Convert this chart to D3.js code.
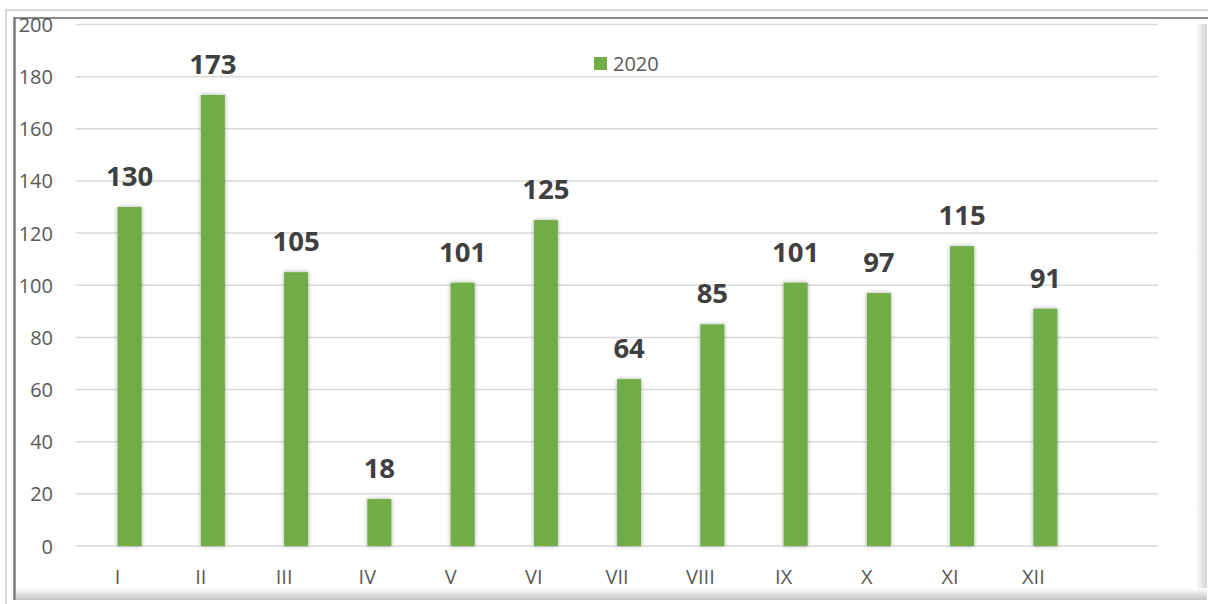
<!DOCTYPE html>
<html>
<head>
<meta charset="utf-8">
<script src="https://cdn.jsdelivr.net/npm/d3@7"></script>
<style>
  html, body { margin: 0; padding: 0; background: #fff; }
  svg { display: block; }
</style>
</head>
<body>
<svg id="chart" width="1208" height="604"></svg>
<script>
const months = ["I","II","III","IV","V","VI","VII","VIII","IX","X","XI","XII"];
const values2020 = [130,173,105,18,101,125,64,85,101,97,115,91];
const seriesName = "2020";
const yTicks = [0,20,40,60,80,100,120,140,160,180,200];

const svg = d3.select("#chart");
const W = 1208, H = 604;

const defs = svg.append("defs");
const f = defs.append("filter").attr("id","shadow").attr("x","-50%").attr("y","-10%").attr("width","200%").attr("height","120%");
f.append("feDropShadow").attr("dx",0).attr("dy",0).attr("stdDeviation",2.2).attr("flood-color","#000").attr("flood-opacity",0.35);

const gR = defs.append("linearGradient").attr("id","gRight").attr("x1","0").attr("x2","1").attr("y1","0").attr("y2","0");
gR.append("stop").attr("offset","0").attr("stop-color","#ffffff");
gR.append("stop").attr("offset","1").attr("stop-color","#d2d2d2");
const gB = defs.append("linearGradient").attr("id","gBottom").attr("x1","0").attr("x2","0").attr("y1","0").attr("y2","1");
gB.append("stop").attr("offset","0").attr("stop-color","#ffffff");
gB.append("stop").attr("offset","1").attr("stop-color","#c4c4c4");

// Frame
svg.append("rect").attr("x",1195).attr("y",24).attr("width",12).attr("height",576).attr("fill","url(#gRight)");
svg.append("rect").attr("x",16).attr("y",588).attr("width",1191).attr("height",12).attr("fill","url(#gBottom)");
svg.append("line").attr("x1",5).attr("x2",W).attr("y1",10).attr("y2",10).attr("stroke","#d9d9d9").attr("stroke-width",2);
svg.append("line").attr("x1",6).attr("x2",6).attr("y1",10).attr("y2",H).attr("stroke","#d9d9d9").attr("stroke-width",2);
svg.append("line").attr("x1",14).attr("x2",W).attr("y1",18).attr("y2",18).attr("stroke","#8a8a8a").attr("stroke-width",2);
svg.append("line").attr("x1",14.5).attr("x2",14.5).attr("y1",17).attr("y2",600).attr("stroke","#7a7a7a").attr("stroke-width",2.5);

const plotL = 76, plotR = 1158;
const x = d3.scaleBand().domain(months).range([plotL, plotL + 12 * 83.25]);
const y = d3.scaleLinear().domain([0,200]).range([546, 24.5]);

// gridlines
svg.append("g").selectAll("line").data(yTicks).join("line")
  .attr("x1", plotL).attr("x2", plotR)
  .attr("y1", d => y(d)).attr("y2", d => y(d))
  .attr("stroke", "#d9d9d9").attr("stroke-width", 1.5);

// y labels
svg.append("g").selectAll("text").data(yTicks).join("text")
  .attr("x", 53).attr("y", d => y(d))
  .attr("text-anchor","end").attr("dominant-baseline","central")
  .attr("font-family","'Open Sans', sans-serif").attr("font-size",20)
  .attr("fill","#595959").text(d => d);

// bars
const bw = 24;
svg.append("g").selectAll("rect").data(values2020).join("rect")
  .attr("x", (d,i) => x(months[i]) + x.bandwidth()/2)
  .attr("width", bw)
  .attr("y", d => y(d))
  .attr("height", d => y(0) - y(d))
  .attr("fill", "#70ad47")
  .attr("filter", "url(#shadow)");

// data labels
svg.append("g").selectAll("text").data(values2020).join("text")
  .attr("x", (d,i) => x(months[i]) + x.bandwidth()/2 + bw/2)
  .attr("y", d => y(d) - 21)
  .attr("text-anchor","middle")
  .attr("font-family","'Open Sans', sans-serif").attr("font-weight","bold").attr("font-size",27.5)
  .attr("fill","#404040").text(d => d);

// x labels
svg.append("g").selectAll("text").data(months).join("text")
  .attr("x", d => x(d) + x.bandwidth()/2)
  .attr("y", 584)
  .attr("text-anchor","middle")
  .attr("font-family","'Open Sans', sans-serif").attr("font-size",20)
  .attr("fill","#595959").text(d => d);

// legend
svg.append("rect").attr("x",594).attr("y",57).attr("width",13).attr("height",13).attr("fill","#70ad47");
svg.append("text").attr("x",613).attr("y",70.5)
  .attr("font-family","'Open Sans', sans-serif").attr("font-size",20)
  .attr("fill","#595959").text(seriesName);
</script>
</body>
</html>
